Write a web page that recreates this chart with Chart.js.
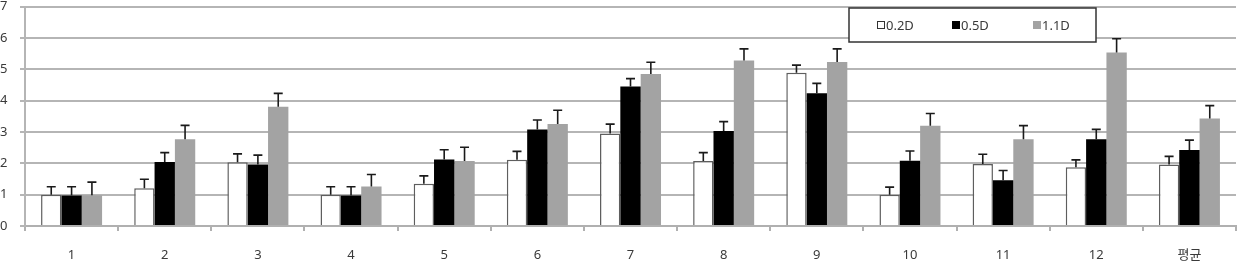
<!DOCTYPE html>
<html>
<head>
<meta charset="utf-8">
<script src="https://cdn.jsdelivr.net/npm/chart.js@4"></script>
<style>
html,body{margin:0;padding:0;background:#fff;}
#wrap{width:1245px;height:276px;position:relative;}
</style>
</head>
<body>
<div id="wrap"><canvas id="c" width="1245" height="276"></canvas></div>
<script>
const categories = ['1','2','3','4','5','6','7','8','9','10','11','12','평균'];
const seriesLabels = ['0.2D','0.5D','1.1D'];
const values02 = [1.00,1.20,2.03,1.00,1.35,2.11,2.95,2.07,4.89,1.00,1.98,1.87,1.96];
const values05 = [0.97,2.04,1.96,0.97,2.12,3.08,4.45,3.03,4.23,2.08,1.46,2.77,2.42];
const values11 = [0.98,2.77,3.80,1.26,2.07,3.25,4.85,5.28,5.23,3.20,2.77,5.53,3.43];
const err02 = [0.25,0.29,0.27,0.25,0.25,0.27,0.30,0.27,0.24,0.24,0.31,0.24,0.26];
const err05 = [0.28,0.30,0.30,0.28,0.31,0.30,0.25,0.30,0.32,0.31,0.31,0.31,0.32];
const err11 = [0.42,0.44,0.43,0.38,0.44,0.44,0.37,0.37,0.42,0.39,0.43,0.44,0.41];
const yTicks = [0,1,2,3,4,5,6,7];

const FONT = '"Noto Sans", "Noto Sans CJK KR", sans-serif';
const TXT = '#3a3a3a';

const errorBars = {
  id: 'errorBars',
  afterDatasetsDraw(chart) {
    const ctx = chart.ctx;
    const y = chart.scales.y;
    ctx.save();
    ctx.strokeStyle = '#1a1a1a';
    ctx.lineWidth = 1.6;
    chart.data.datasets.forEach((ds, i) => {
      const meta = chart.getDatasetMeta(i);
      meta.data.forEach((bar, j) => {
        const v = ds.data[j];
        const e = ds.errors[j];
        const top = y.getPixelForValue(v + e);
        const base = y.getPixelForValue(v);
        ctx.beginPath();
        ctx.moveTo(bar.x, base);
        ctx.lineTo(bar.x, top);
        ctx.moveTo(bar.x - 4.5, top);
        ctx.lineTo(bar.x + 4.5, top);
        ctx.stroke();
      });
    });
    ctx.restore();
  }
};

const boxLegend = {
  id: 'boxLegend',
  afterDraw(chart) {
    const ctx = chart.ctx;
    ctx.save();
    const bx = 849, by = 8, bw = 247, bh = 34;
    ctx.fillStyle = '#fff';
    ctx.fillRect(bx, by, bw, bh);
    ctx.strokeStyle = '#333';
    ctx.lineWidth = 1.5;
    ctx.strokeRect(bx, by, bw, bh);
    const xs = [877, 952, 1033];
    const cy = 25;
    ctx.font = '13px ' + FONT;
    ctx.textBaseline = 'middle';
    chart.data.datasets.forEach((ds, i) => {
      const x = xs[i];
      ctx.fillStyle = ds.backgroundColor;
      ctx.fillRect(x, cy - 4, 8, 8);
      if (i === 0) {
        ctx.strokeStyle = '#333';
        ctx.lineWidth = 1;
        ctx.strokeRect(x + 0.5, cy - 3.5, 7, 7);
      }
      ctx.fillStyle = TXT;
      ctx.textAlign = 'left';
      ctx.fillText(ds.label, x + 9, cy + 1);
    });
    ctx.restore();
  }
};

new Chart(document.getElementById('c'), {
  type: 'bar',
  data: {
    labels: categories,
    datasets: [
      { label: seriesLabels[0], data: values02, errors: err02, backgroundColor: '#ffffff', borderColor: '#5e5e5e', borderWidth: 1.5 },
      { label: seriesLabels[1], data: values05, errors: err05, backgroundColor: '#000000', borderWidth: 0 },
      { label: seriesLabels[2], data: values11, errors: err11, backgroundColor: '#a3a3a3', borderWidth: 0 }
    ]
  },
  plugins: [errorBars, boxLegend],
  options: {
    responsive: false,
    animation: false,
    layout: { padding: { top: 0, right: 9, left: 0, bottom: 0 } },
    datasets: { bar: { categoryPercentage: 0.655, barPercentage: 1.0 } },
    plugins: { legend: { display: false }, tooltip: { enabled: false } },
    scales: {
      x: {
        offset: true,
        grid: { offset: true, drawOnChartArea: false, drawTicks: true, tickLength: 5, color: '#b0b0b0', lineWidth: 2 },
        border: { display: true, color: '#b0b0b0', width: 2 },
        ticks: { color: TXT, font: { family: FONT, size: 13 }, padding: 16, maxRotation: 0 },
        afterFit(s) { s.height = 50; }
      },
      y: {
        min: 0, max: 7,
        afterBuildTicks(s) { s.ticks = yTicks.map(v => ({ value: v })); },
        grid: { color: '#b5b5b5', lineWidth: 2, tickLength: 5, drawTicks: true },
        border: { display: true, color: '#b5b5b5', width: 2 },
        ticks: { color: TXT, font: { family: FONT, size: 13, lineHeight: 1 }, padding: 0, crossAlign: 'far' },
        afterFit(s) { s.width = 25; }
      }
    }
  }
});
</script>
</body>
</html>
